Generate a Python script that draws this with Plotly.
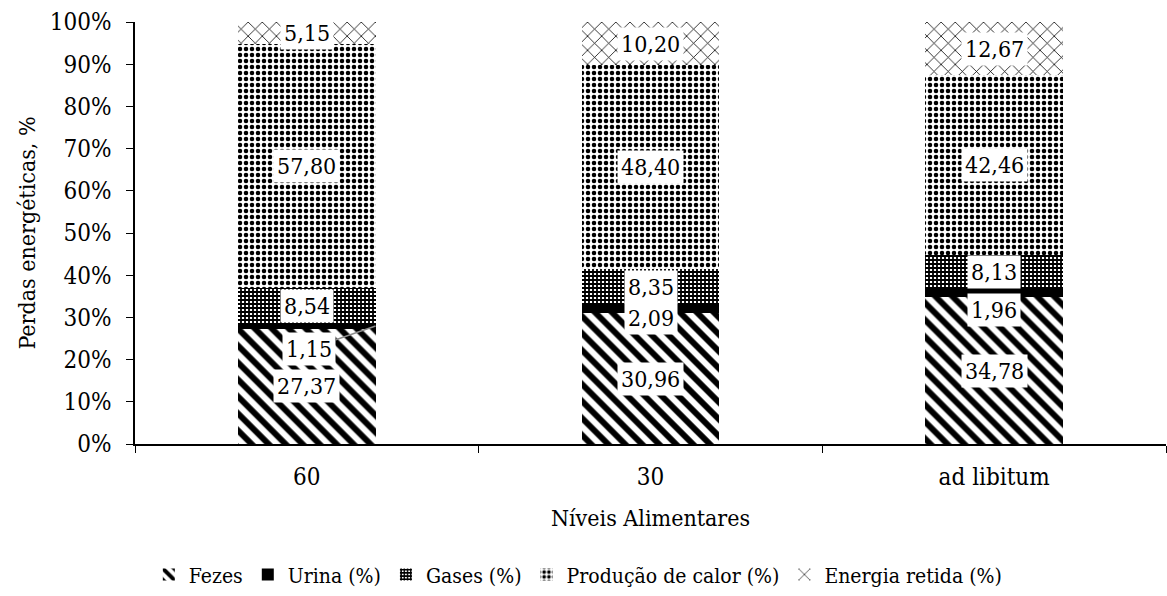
import plotly.graph_objects as go

categories = ["60", "30", "ad libitum"]
fezes = [27.37, 30.96, 34.78]
urina = [1.15, 2.09, 1.96]
gases = [8.54, 8.35, 8.13]
calor = [57.80, 48.40, 42.46]
energia = [5.15, 10.20, 12.67]

series_names = ["Fezes", "Urina (%)", "Gases (%)", "Produção de calor (%)", "Energia retida (%)"]
series_values = [fezes, urina, gases, calor, energia]

patterns = [
    dict(shape="\\", size=12, solidity=0.5, fgcolor="black", bgcolor="white", fgopacity=1),
    None,
    dict(shape="+", size=4, solidity=0.7, fgcolor="black", bgcolor="white", fgopacity=1),
    dict(shape=".", size=6, solidity=0.45, fgcolor="black", bgcolor="white", fgopacity=1),
    dict(shape="x", size=10, solidity=0.15, fgcolor="black", bgcolor="white", fgopacity=1),
]

FONT = "DejaVu Serif Condensed, DejaVu Serif"
fig = go.Figure()
for name, vals, pat in zip(series_names, series_values, patterns):
    marker = dict(color="black" if pat is None else "white", line=dict(width=0))
    if pat is not None:
        marker["pattern"] = pat
    fig.add_trace(go.Bar(name=name, x=categories, y=vals, marker=marker))

label_shift = {1: [None, -9, -17]}  # Urina labels moved below their slim segments
annotations = []
for ci, cat in enumerate(categories):
    base = 0.0
    for si, vals in enumerate(series_values):
        v = vals[ci]
        center = base + v / 2
        txt = f"{v:.2f}".replace(".", ",")
        if si == 1 and ci == 0:
            annotations.append(dict(
                x=ci + 0.2, y=center, xref="x", yref="y", text=txt,
                showarrow=True, arrowhead=0, arrowwidth=1.5, arrowcolor="#8c8c8c",
                ax=-67, ay=23, bgcolor="white", borderpad=3,
                font=dict(family=FONT, size=23, color="black")))
        else:
            ys = 0
            if si in label_shift and label_shift[si][ci] is not None:
                ys = label_shift[si][ci]
            annotations.append(dict(
                x=ci, y=center, xref="x", yref="y", text=txt, showarrow=False,
                yshift=ys, bgcolor="white", borderpad=3,
                font=dict(family=FONT, size=23, color="black")))
        base += v

fig.update_layout(
    barmode="stack",
    bargap=0.6,
    width=1167, height=596,
    margin=dict(l=135, r=1, t=22, b=149),
    plot_bgcolor="white", paper_bgcolor="white",
    font=dict(family=FONT, size=22, color="black"),
    annotations=annotations,
    legend=dict(orientation="h", x=0.43, xanchor="center", y=-0.31, yanchor="middle",
                font=dict(family=FONT, size=21), itemwidth=30, traceorder="normal"),
    xaxis=dict(type="category", showline=True, linecolor="black", linewidth=1.5,
               ticks="outside", tickson="boundaries", ticklen=7, tickcolor="black",
               ticklabelstandoff=10,
               tickfont=dict(family=FONT, size=24),
               title=dict(text="Níveis Alimentares", font=dict(family=FONT, size=23), standoff=20)),
    yaxis=dict(range=[0, 100], dtick=10, ticksuffix="%", showline=True, linecolor="black",
               linewidth=1.5, ticks="outside", ticklen=7, tickcolor="black", showgrid=False,
               zeroline=False, ticklabelstandoff=10, tickfont=dict(family=FONT, size=24),
               title=dict(text="Perdas energéticas, %", font=dict(family=FONT, size=23), standoff=8)),
)

fig.write_html("out.html")
